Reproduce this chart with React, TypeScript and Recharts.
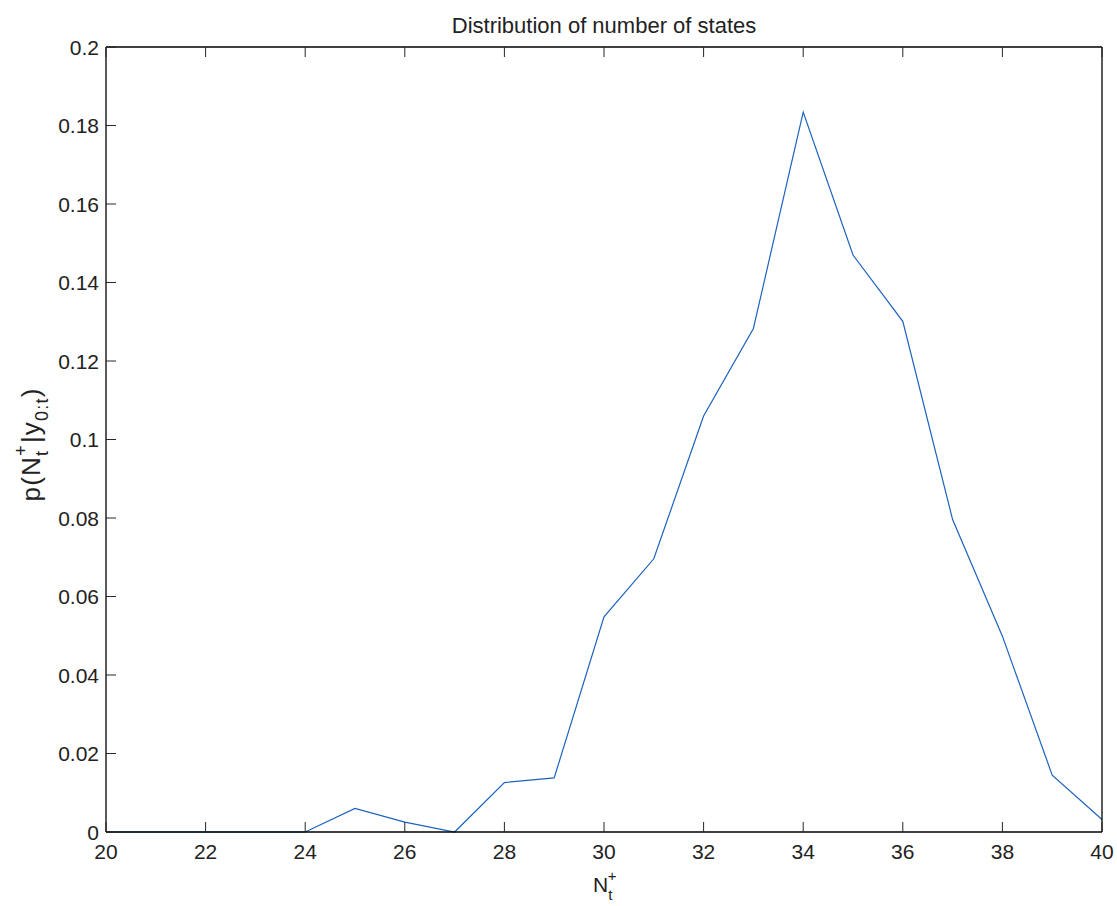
import { Label, Line, LineChart, XAxis, YAxis } from "recharts";

const nValues = [20, 21, 22, 23, 24, 25, 26, 27, 28, 29, 30, 31, 32, 33, 34, 35, 36, 37, 38, 39, 40];
const probabilities = [
  0, 0, 0, 0, 0, 0.006, 0.0025, 0, 0.0126, 0.0138, 0.0548, 0.0696, 0.106, 0.1283, 0.1834, 0.147, 0.1301, 0.0796,
  0.0499, 0.0145, 0.0032,
];
const xTicks = [20, 22, 24, 26, 28, 30, 32, 34, 36, 38, 40];
const yTicks = [0, 0.02, 0.04, 0.06, 0.08, 0.1, 0.12, 0.14, 0.16, 0.18, 0.2];
const chartTitle = "Distribution of number of states";

const data = nValues.map((n, i) => ({ n, p: probabilities[i] }));

const FONT = "'Liberation Sans', Arial, Helvetica, sans-serif";
const TICK_LEN = 10;
const TICK_COLOR = "#262626";
const TEXT_COLOR = "#222";

function BottomTick(props: any) {
  const { x, y, payload } = props;
  const axisY = y - 12;
  return (
    <g>
      <line x1={x} y1={axisY} x2={x} y2={axisY - TICK_LEN} stroke={TICK_COLOR} />
      <text x={x} y={y} dy="0.72em" textAnchor="middle" fontSize={21} fill={TEXT_COLOR} fontFamily={FONT}>
        {payload.value}
      </text>
    </g>
  );
}

function LeftTick(props: any) {
  const { x, y, payload } = props;
  const axisX = x + 7;
  return (
    <g>
      <line x1={axisX} y1={y} x2={axisX + TICK_LEN} y2={y} stroke={TICK_COLOR} />
      <text x={x} y={y} dy="0.36em" textAnchor="end" fontSize={21} fill={TEXT_COLOR} fontFamily={FONT}>
        {String(payload.value)}
      </text>
    </g>
  );
}

function TopTick(props: any) {
  const { x, y } = props;
  return <line x1={x} y1={y} x2={x} y2={y + TICK_LEN} stroke={TICK_COLOR} />;
}

function RightTick(props: any) {
  const { x, y } = props;
  return <line x1={x} y1={y} x2={x - TICK_LEN} y2={y} stroke={TICK_COLOR} />;
}

export default function App() {
  return (
    <div style={{ position: "absolute", left: 0, top: 0, width: 1117, height: 906, background: "#fff" }}>
      <LineChart width={1117} height={906} data={data} margin={{ top: 46, right: 14, bottom: 44, left: 46 }}>
        <XAxis
          dataKey="n"
          type="number"
          domain={[20, 40]}
          ticks={xTicks}
          height={30}
          tickSize={0}
          tickMargin={12}
          tickLine={false}
          axisLine={{ stroke: "#000", strokeWidth: 1.3 }}
          tick={BottomTick}
          interval={0}
        >
          <Label
            content={({ viewBox }: any) => {
              const cx = viewBox.x + viewBox.width / 2;
              const base = viewBox.y + 60;
              return (
                <text x={cx - 11} y={base} fontFamily={FONT} fill={TEXT_COLOR}>
                  <tspan fontSize={21}>N</tspan>
                  <tspan fontSize={15} dy={8}>t</tspan>
                  <tspan fontSize={15} dx={-4.5} dy={-19}>+</tspan>
                </text>
              );
            }}
          />
        </XAxis>
        <XAxis
          xAxisId="top"
          orientation="top"
          dataKey="n"
          type="number"
          domain={[20, 40]}
          ticks={xTicks}
          height={1}
          tickSize={0}
          tickMargin={0}
          tickLine={false}
          axisLine={{ stroke: "#000", strokeWidth: 1.3 }}
          tick={TopTick}
          interval={0}
        >
          <Label
            content={({ viewBox }: any) => (
              <text
                x={viewBox.x + viewBox.width / 2}
                y={33}
                textAnchor="middle"
                fontSize={22}
                fill={TEXT_COLOR}
                fontFamily={FONT}
              >
                {chartTitle}
              </text>
            )}
          />
        </XAxis>
        <YAxis
          type="number"
          domain={[0, 0.2]}
          ticks={yTicks}
          width={60}
          tickSize={0}
          tickMargin={7}
          tickLine={false}
          axisLine={{ stroke: "#000", strokeWidth: 1.3 }}
          tick={LeftTick}
          interval={0}
        >
          <Label
            content={({ viewBox }: any) => {
              const cx = viewBox.x - 6;
              const cy = viewBox.y + viewBox.height / 2 + 5;
              return (
                <text
                  x={cx}
                  y={cy}
                  textAnchor="middle"
                  transform={`rotate(-90, ${cx}, ${cy})`}
                  fontFamily={FONT}
                  fill={TEXT_COLOR}
                  letterSpacing={1.2}
                >
                  <tspan fontSize={26}>p(N</tspan>
                  <tspan fontSize={18} dy={8}>t</tspan>
                  <tspan fontSize={18} dx={-6} dy={-21}>+</tspan>
                  <tspan fontSize={26} dx={1} dy={13}>|y</tspan>
                  <tspan fontSize={18} dy={8}>0:t</tspan>
                  <tspan fontSize={26} dy={-8}>)</tspan>
                </text>
              );
            }}
          />
        </YAxis>
        <YAxis
          yAxisId="right"
          orientation="right"
          type="number"
          domain={[0, 0.2]}
          ticks={yTicks}
          width={1}
          tickSize={0}
          tickMargin={0}
          tickLine={false}
          axisLine={{ stroke: "#000", strokeWidth: 1.3 }}
          tick={RightTick}
          interval={0}
        />
        <Line
          type="linear"
          dataKey="p"
          stroke="#1c62bd"
          strokeWidth={1.2}
          dot={false}
          activeDot={false}
          isAnimationActive={false}
        />
      </LineChart>
    </div>
  );
}
